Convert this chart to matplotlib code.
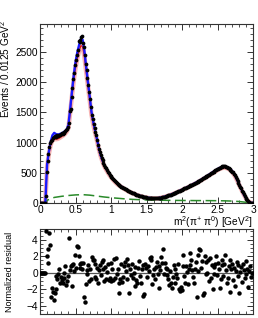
import numpy as np
import matplotlib
matplotlib.use("Agg")
import matplotlib.pyplot as plt
from matplotlib.ticker import MultipleLocator

plt.rcParams['font.family'] = ['Liberation Sans', 'DejaVu Sans']
plt.rcParams['mathtext.fontset'] = 'custom'
plt.rcParams['mathtext.rm'] = 'Liberation Sans'
plt.rcParams['mathtext.it'] = 'Liberation Sans:italic'

# bin width 0.0125 GeV^2, 240 bins from 0 to 3
bin_lo = 0.0
bin_w = 0.0125

data = [
    0, 0, 0, 0, 0, 0, 120, 520, 700, 810, 930, 990,
    1020, 1050, 1080, 1090, 1100, 1095, 1110, 1120, 1105, 1125, 1130, 1140,
    1150, 1145, 1165, 1175, 1190, 1210, 1230, 1260, 1330, 1520, 1560, 1760,
    1900, 2050, 2150, 2290, 2370, 2450, 2530, 2680, 2660, 2700, 2740, 2760,
    2650, 2580, 2440, 2300, 2200, 2060, 1950, 1830, 1720, 1590, 1460, 1390,
    1300, 1240, 1170, 1120, 1040, 960, 890, 850, 800, 745, 710, 660,
    630, 600, 575, 545, 520, 500, 470, 450, 435, 410, 395, 375,
    360, 340, 335, 315, 305, 295, 285, 270, 265, 255, 245, 235,
    225, 222, 210, 200, 195, 185, 180, 170, 166, 158, 150, 146,
    140, 133, 128, 124, 118, 115, 110, 106, 102, 99, 96, 92,
    90, 88, 84, 85, 81, 80, 79, 80, 77, 79, 80, 82,
    81, 85, 86, 90, 91, 95, 99, 103, 107, 110, 117, 120,
    126, 130, 136, 140, 148, 152, 158, 166, 172, 178, 186, 192,
    198, 206, 213, 220, 226, 232, 240, 246, 254, 262, 268, 276,
    282, 290, 298, 305, 312, 320, 330, 336, 344, 352, 362, 370,
    378, 387, 396, 406, 414, 424, 432, 442, 452, 462, 470, 481,
    490, 500, 510, 520, 530, 538, 548, 556, 566, 574, 584, 592,
    600, 612, 615, 610, 612, 600, 598, 585, 578, 562, 552, 536,
    520, 505, 480, 455, 430, 400, 372, 338, 306, 272, 240, 205,
    175, 145, 115, 88, 64, 44, 28, 16, 8, 3, 0, 0,
]

resid = [
    0, 0, 0, 0, 0, 0,
    5.0, 2.0, 2.9, 1.2, 4.8, 3.4, -2.9, -1.9, -2.3, -3.3,
    -2.5, -2.0, -0.4, -0.8, -0.2, 0.5, -1.3, -0.5, -0.9, -1.3,
    -0.6, 0.0, 0.8, -1.5, -1.0, -0.4, 4.2, 0.3, 0.8, -1.6,
    0.9, 1.0, 0.2, 2.2, 0.6, 3.2, 3.1, 2.0, 1.0, 0.6,
    1.2, 0.5, 1.2, -2.9, -3.6, -1.4, 0.3, -0.2, 0.9, -1.0,
    0.4, -0.8, 1.9, 1.5, 1.6, -0.5, 1.0, -0.7, 0.6, -1.2,
    0.3, 0.9, -0.3, 1.3, 1.6, 0.4, -1.0, 0.7, -0.8, 0.1,
    1.0, -0.9, -0.6, 1.2, -1.0, 0.5, -0.9, 1.7, -0.6, 1.8,
    -0.2, 0.4, -1.3, -2.4, -0.8, 1.0, -1.1, -0.5, 0.8, 1.3,
    0.2, -0.7, 1.7, 0.9, -2.4, 0.4, -0.3, 1.1, -0.6, 0.0,
    -1.6, 0.7, -0.9, -1.2, 0.6, 1.4, -0.4, -1.2, 0.5, -2.8,
    0.9, -2.6, 1.0, 0.6, -0.5, 0.8, 0.2, 1.8, 1.9, 1.5,
    -1.4, -0.3, 0.4, -0.8, 0.7, 1.3, -0.2, -1.9, 0.8, 0.3,
    1.9, 1.2, 2.9, -0.2, 1.2, 0.6, -0.3, 0.4, -0.8, -1.5,
    0.2, -1.2, -1.8, -0.5, 0.9, 0.5, -1.3, -0.1, -0.6, 1.1,
    -2.0, -2.2, -1.7, -2.1, 2.2, 0.8, -0.4, -1.2, 0.8, 0.1,
    -1.4, 0.4, 2.4, 0.9, 1.5, 0.3, -0.5, -1.3, 0.5, 1.3,
    -2.9, 0.2, 2.2, 2.9, 2.7, 0.6, 1.4, -2.7, -2.5, 2.0,
    1.3, -0.2, 0.0, 1.6, -1.0, 1.8, -0.6, 0.9, -2.0, 0.7,
    -0.1, 1.0, 2.0, -0.3, 1.2, 0.5, -1.9, -0.8, 1.6, 0.9,
    -0.4, 1.1, 2.2, 0.3, -1.2, -0.6, 0.8, 1.5, -2.3, 0.4,
    1.1, -0.9, 0.6, -1.6, 0.2, 1.3, -0.4, 0.9, -2.4, 0.1,
    0.7, -1.1, 1.0, 0.3, -0.6, 1.4, -0.2, 0.5, -1.7, 0.2,
    0.8, -0.5, 0, 0,
]

# fit curves sampled every 0.025 GeV^2 from 0 to 3
curve_step = 0.025
fit_total = [
    0, 0, 0, 0, 640, 850, 1010, 1120, 1160, 1140,
    1130, 1140, 1150, 1165, 1185, 1215, 1290, 1560, 1840, 2110,
    2330, 2490, 2610, 2710, 2700, 2520, 2250, 2000, 1760, 1510,
    1340, 1200, 1070, 930, 810, 720, 640, 580, 530, 480,
    440, 400, 365, 335, 310, 290, 270, 250, 230, 212,
    196, 182, 168, 155, 143, 132, 122, 113, 105, 98,
    92, 87, 83, 80, 78, 78, 80, 84, 89, 96,
    104, 113, 122, 132, 143, 155, 167, 180, 193, 207,
    221, 235, 249, 263, 278, 293, 308, 324, 340, 357,
    374, 392, 410, 428, 447, 466, 485, 505, 524, 543,
    562, 578, 592, 600, 602, 597, 585, 565, 535, 495,
    445, 385, 320, 255, 190, 130, 80, 40, 15, 3,
    0,
]
fit_alt = [
    0, 0, 0, 0, 600, 810, 960, 1040, 1060, 1055,
    1060, 1075, 1095, 1115, 1140, 1175, 1240, 1500, 1770, 2020,
    2230, 2390, 2510, 2600, 2590, 2420, 2170, 1930, 1700, 1460,
    1300, 1165, 1040, 905, 790, 700, 622, 563, 514, 466,
    427, 389, 355, 326, 301, 282, 262, 243, 223, 206,
    190, 176, 163, 150, 139, 128, 118, 110, 102, 95,
    89, 84, 80, 77, 75, 75, 77, 81, 86, 93,
    100, 109, 118, 128, 139, 150, 162, 174, 187, 200,
    214, 228, 241, 255, 269, 284, 298, 314, 329, 346,
    362, 380, 397, 414, 433, 451, 470, 489, 507, 526,
    544, 560, 573, 581, 583, 578, 567, 547, 518, 480,
    431, 373, 310, 247, 184, 126, 77, 39, 15, 3,
    0,
]

# background, every 0.1 GeV^2
bkg_x = [0.0, 0.075, 0.1, 0.2, 0.3, 0.4, 0.5, 0.6, 0.7, 0.8, 0.9, 1.0, 1.1, 1.2, 1.3,
         1.4, 1.5, 1.6, 1.7, 1.8, 1.9, 2.0, 2.1, 2.2, 2.3, 2.4, 2.5, 2.6, 2.7,
         2.8, 2.9, 3.0]
bkg_y = [0, 0, 45, 92, 110, 124, 134, 138, 130, 115, 100, 88, 78, 68, 60,
         55, 51, 48, 46, 44, 43, 42, 41, 40, 40, 39, 38, 36, 32,
         25, 12, 0]

x_bins = bin_lo + bin_w * (np.arange(len(data)) + 0.5)
x_curve = curve_step * np.arange(len(fit_total))

fig = plt.figure(figsize=(2.58, 3.18), dpi=100)
ax = fig.add_axes([0.155, 0.3616, 0.826, 0.563])
axr = fig.add_axes([0.155, 0.0126, 0.826, 0.2673])

frame = '#333333'
for a in (ax, axr):
    for s in a.spines.values():
        s.set_color(frame)
        s.set_linewidth(0.8)
    a.tick_params(which='both', direction='in', top=True, right=True,
                  color=frame, labelsize=7.3, pad=1.5)
    a.tick_params(which='major', length=4, width=0.7)
    a.tick_params(which='minor', length=2, width=0.6)
    a.set_xlim(0, 3)
    a.xaxis.set_major_locator(MultipleLocator(0.5))
    a.xaxis.set_minor_locator(MultipleLocator(0.1))

ax.plot(x_curve, fit_alt, color='#f4a0a0', lw=3.2, alpha=0.8, zorder=2)
ax.plot(x_curve, fit_alt, color='#e01010', lw=0.9, zorder=3)
ax.plot(x_curve, fit_total, color='#1a1aff', lw=1.7, zorder=4)
ax.plot(x_bins, data, 'o', color='black', ms=2.7, mew=0, zorder=5)
ax.plot(bkg_x, bkg_y, color='#2a8a2a', lw=1.1, ls=(0, (7, 3)), zorder=3)

ax.set_ylim(0, 2960)
ax.yaxis.set_major_locator(MultipleLocator(500))
ax.yaxis.set_minor_locator(MultipleLocator(100))
ax.set_xticks([0, 0.5, 1, 1.5, 2, 2.5, 3])
ax.set_xticklabels(['0', '0.5', '1', '1.5', '2', '2.5', '3'])
ax.set_ylabel('Events / 0.0125 GeV$^{2}$', fontsize=7.2, labelpad=2)
ax.yaxis.set_label_coords(-0.13, 0.75)
ax.set_xlabel('m$^{2}$(π$^{+}$ π$^{0}$) [GeV$^{2}$]', fontsize=7.3, labelpad=0)
ax.xaxis.set_label_coords(1.0, -0.065)
ax.xaxis.label.set_horizontalalignment('right')

axr.axhline(0, color='#555555', lw=0.9, zorder=1)
axr.plot(x_bins, resid, 'o', color='black', ms=3.2, mew=0, zorder=3)
axr.set_ylim(-5, 5.3)
axr.yaxis.set_major_locator(MultipleLocator(2))
axr.yaxis.set_minor_locator(MultipleLocator(0.5))
axr.set_xticklabels([])
axr.set_ylabel('Normalized residual', fontsize=6.5, labelpad=2)
axr.yaxis.set_label_coords(-0.12, 0.5)

fig.savefig('out.png', dpi=100)
